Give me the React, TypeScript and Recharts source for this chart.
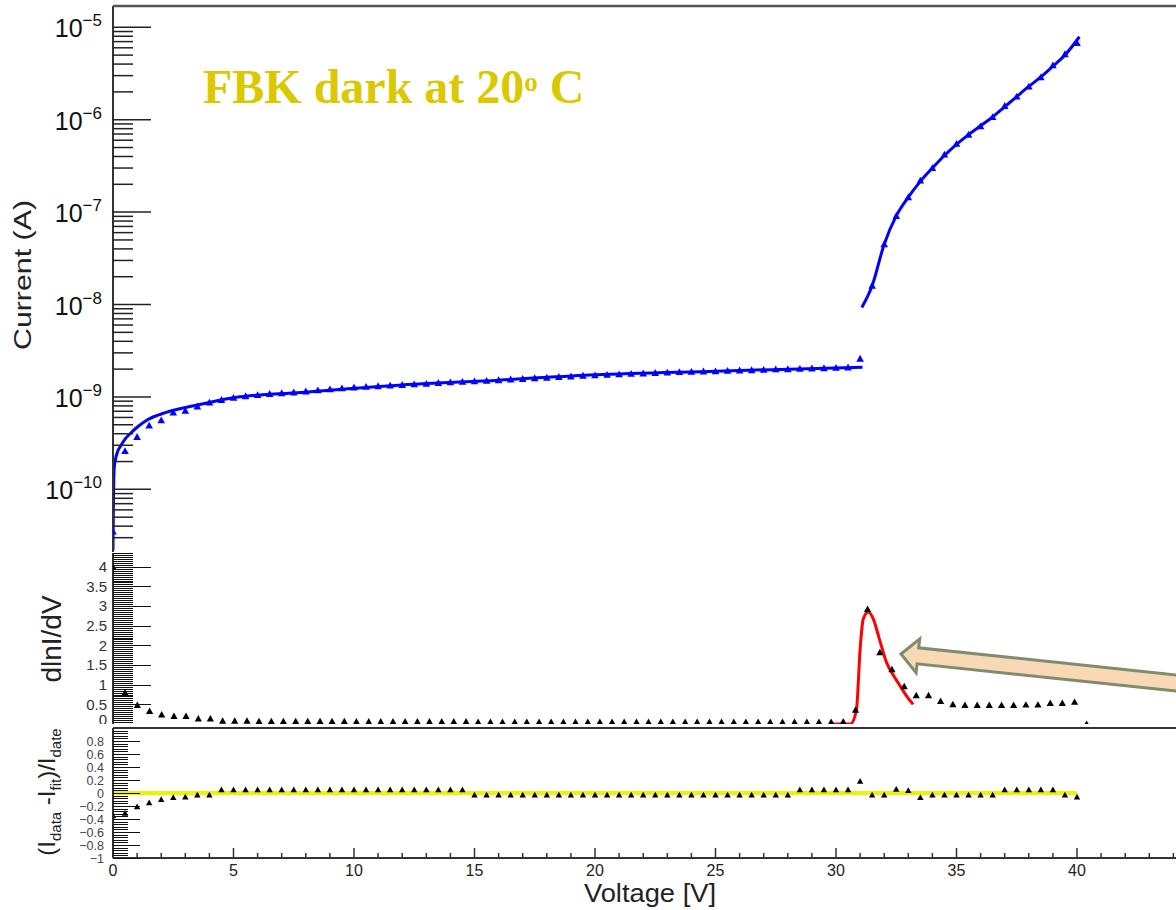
import React from 'react';
import { ComposedChart, Line, Scatter, XAxis, YAxis } from 'recharts';

// I-V scan, half-volt steps
const voltage = [
  0, 0.5, 1, 1.5, 2, 2.5, 3, 3.5, 4, 4.5, 5, 5.5, 6, 6.5, 7, 7.5, 8, 8.5, 9, 9.5,
  10, 10.5, 11, 11.5, 12, 12.5, 13, 13.5, 14, 14.5, 15, 15.5, 16, 16.5, 17, 17.5, 18, 18.5, 19, 19.5,
  20, 20.5, 21, 21.5, 22, 22.5, 23, 23.5, 24, 24.5, 25, 25.5, 26, 26.5, 27, 27.5, 28, 28.5, 29, 29.5,
  30, 30.5, 31, 31.5, 32, 32.5, 33, 33.5, 34, 34.5, 35, 35.5, 36, 36.5, 37, 37.5, 38, 38.5, 39, 39.5, 40,
];

const current = [
  3.5e-11, 2.6e-10, 3.7e-10, 4.9e-10, 5.6e-10, 6.8e-10, 7.1e-10, 7.9e-10, 8.7e-10, 9.3e-10,
  9.8e-10, 1.02e-9, 1.05e-9, 1.08e-9, 1.1e-9, 1.12e-9, 1.15e-9, 1.18e-9, 1.21e-9, 1.24e-9,
  1.27e-9, 1.29e-9, 1.31e-9, 1.33e-9, 1.35e-9, 1.37e-9, 1.39e-9, 1.42e-9, 1.44e-9, 1.46e-9,
  1.48e-9, 1.5e-9, 1.52e-9, 1.55e-9, 1.57e-9, 1.6e-9, 1.62e-9, 1.65e-9, 1.67e-9, 1.7e-9,
  1.72e-9, 1.74e-9, 1.76e-9, 1.78e-9, 1.8e-9, 1.82e-9, 1.84e-9, 1.86e-9, 1.87e-9, 1.89e-9,
  1.9e-9, 1.92e-9, 1.94e-9, 1.95e-9, 1.97e-9, 1.99e-9, 2.0e-9, 2.02e-9, 2.04e-9, 2.05e-9,
  2.07e-9, 2.09e-9, 2.6e-9, 1.6e-8, 4.5e-8, 9.1e-8, 1.45e-7, 2.2e-7, 3.0e-7, 4.2e-7,
  5.5e-7, 6.9e-7, 8.5e-7, 1.07e-6, 1.41e-6, 1.78e-6, 2.29e-6, 2.88e-6, 3.89e-6, 5.13e-6, 6.76e-6,
];

// fit below breakdown
const fitLowV = [0, 0.02, 0.05, 0.1, 0.2, 0.3, 0.5, 0.75, 1.0, 1.4, 2.2, 3.6, 5, 7.8, 12, 16, 20, 25, 31.1];
const fitLowI = [
  2.2e-11, 8e-11, 1.7e-10, 2.1e-10, 2.6e-10, 2.9e-10, 3.5e-10, 4.1e-10, 4.7e-10, 5.6e-10,
  6.8e-10, 8.3e-10, 9.8e-10, 1.12e-9, 1.35e-9, 1.52e-9, 1.74e-9, 1.9e-9, 2.1e-9,
];

// fit above breakdown
const fitHighV = [31.07, 31.5, 32, 32.5, 33, 33.5, 34, 34.5, 35, 35.5, 36, 36.5, 37, 37.5, 38, 38.5, 39, 39.5, 40.1];
const fitHighI = [
  9.3e-9, 1.6e-8, 4.5e-8, 9.1e-8, 1.45e-7, 2.15e-7, 3.0e-7, 4.1e-7, 5.4e-7, 6.9e-7,
  8.6e-7, 1.07e-6, 1.38e-6, 1.78e-6, 2.29e-6, 2.9e-6, 3.8e-6, 5.0e-6, 7.9e-6,
];

// dlnI/dV points
const dlnV = [
  0, 0.5, 1.01, 1.52, 2.02, 2.53, 3.03, 3.54, 4.04, 4.55, 5.05, 5.56, 6.06, 6.57, 7.07, 7.58, 8.08, 8.59, 9.09, 9.6,
  10.1, 10.61, 11.11, 11.62, 12.12, 12.63, 13.13, 13.64, 14.14, 14.65, 15.15, 15.66, 16.16, 16.67, 17.17, 17.68, 18.18, 18.69, 19.19, 19.7,
  20.2, 20.71, 21.21, 21.72, 22.22, 22.73, 23.23, 23.74, 24.24, 24.75, 25.25, 25.76, 26.26, 26.77, 27.27, 27.78, 28.28, 28.79, 29.29, 29.8,
  30.3, 30.81, 31.31, 31.82, 32.32, 32.83, 33.33, 33.84, 34.34, 34.85, 35.35, 35.86, 36.36, 36.87, 37.37, 37.88, 38.38, 38.89, 39.39, 39.9, 40.4,
];
const dlnIdV = [
  4.0, 0.8, 0.48, 0.33, 0.24, 0.2, 0.2, 0.14, 0.14, 0.08,
  0.08, 0.08, 0.07, 0.07, 0.07, 0.07, 0.07, 0.07, 0.07, 0.07,
  0.06, 0.06, 0.06, 0.06, 0.06, 0.06, 0.06, 0.06, 0.06, 0.06,
  0.05, 0.05, 0.05, 0.05, 0.05, 0.05, 0.05, 0.05, 0.05, 0.05,
  0.05, 0.05, 0.05, 0.05, 0.05, 0.05, 0.05, 0.05, 0.05, 0.05,
  0.05, 0.05, 0.05, 0.05, 0.05, 0.05, 0.05, 0.05, 0.05, 0.05,
  0.06, 0.36, 2.92, 1.82, 1.39, 0.96, 0.73, 0.73, 0.58, 0.5,
  0.48, 0.48, 0.48, 0.48, 0.48, 0.49, 0.49, 0.53, 0.53, 0.56, 0.0,
];

// red peak fit
const peakFitV = [29.75, 30.2, 30.6, 30.85, 31.0, 31.13, 31.34, 31.55, 31.8, 32.1, 32.4, 32.66, 32.93, 33.2];
const peakFitY = [0, 0, 0, 0.37, 1.9, 2.67, 2.85, 2.67, 2.16, 1.56, 1.22, 0.97, 0.71, 0.5];

// (Idata - Ifit)/Idata
const residual = [
  -0.35, -0.31, -0.21, -0.15, -0.1, -0.07, -0.06, -0.03, -0.03, 0.05,
  0.05, 0.05, 0.05, 0.05, 0.05, 0.05, 0.05, 0.05, 0.05, 0.05,
  0.05, 0.05, 0.05, 0.05, 0.05, 0.05, 0.05, 0.05, 0.05, 0.05,
  -0.03, -0.03, -0.03, -0.03, -0.03, -0.03, -0.03, -0.03, -0.03, -0.03,
  -0.03, -0.03, -0.03, -0.03, -0.03, -0.03, -0.03, -0.03, -0.03, -0.03,
  -0.03, -0.03, -0.03, -0.03, -0.03, -0.03, -0.03, 0.05, 0.05, 0.05,
  0.05, 0.05, 0.18, -0.03, -0.03, 0.06, 0.04, -0.07, -0.03, -0.03,
  -0.03, -0.03, -0.03, -0.03, 0.05, 0.05, 0.05, 0.05, 0.05, -0.03, -0.06,
];
const zeroFitV = [0, 40];
const zeroFitY = [0, 0];

// ticks
const xMajor = [0, 5, 10, 15, 20, 25, 30, 35, 40, 45];
const xLabels = [0, 5, 10, 15, 20, 25, 30, 35, 40];
const xTicks = Array.from({ length: 46 }, (_, i) => i);
const logTicks: number[] = [];
for (let e = -11; e <= -5; e++) {
  for (let m = 1; m <= 9; m++) {
    const t = m * Math.pow(10, e);
    if (t >= 2.1e-11 && t <= 1.7e-5) logTicks.push(t);
  }
}
const dlnLabels = [0, 0.5, 1, 1.5, 2, 2.5, 3, 3.5, 4];
const dlnTicks = Array.from({ length: 88 }, (_, i) => +(i * 0.05).toFixed(2));
const resLabels = [-1, -0.8, -0.6, -0.4, -0.2, 0, 0.2, 0.4, 0.6, 0.8];
const resTicks = Array.from({ length: 51 }, (_, i) => +(-1 + i * 0.04).toFixed(2));

const pairs = (xs: number[], ys: number[]) => xs.map((v, i) => ({ v, y: ys[i] }));

const LEFT = 113;
const W = 1230;
const AX = '#333';
const SANS = "'Liberation Sans', Arial, sans-serif";

const near = (list: number[], v: number) => list.some((l) => Math.abs(l - v) < 1e-6);

const xTick = (bottom: number, major: number, minor: number, labels: boolean) => (p: any) => {
  const v = p.payload.value;
  const isMajor = near(xMajor, v);
  return (
    <g>
      <line x1={p.x} x2={p.x} y1={bottom} y2={bottom - (isMajor ? major : minor)} stroke={AX} strokeWidth={1.5} />
      {labels && near(xLabels, v) && (
        <text x={p.x} y={876} textAnchor="middle" fontSize={16} fill="#222" fontFamily={SANS}>
          {v}
        </text>
      )}
    </g>
  );
};

const logTick = (p: any) => {
  const v = p.payload.value;
  const e = Math.round(Math.log10(v));
  const isMajor = Math.abs(v / Math.pow(10, e) - 1) < 1e-6;
  return (
    <g>
      <line x1={LEFT} x2={LEFT + (isMajor ? 38 : 20)} y1={p.y} y2={p.y} stroke="#222" strokeWidth={1.5} />
      {isMajor && (
        <text x={102} y={p.y + 10} textAnchor="end" fontSize={25} fill="#111" fontFamily={SANS}>
          10<tspan dy={-11} fontSize={17}>{'\u2212' + -e}</tspan>
        </text>
      )}
    </g>
  );
};

// bottomLift: raise the label sitting on the panel's lower edge so it stays inside
const linTick =
  (labels: number[], major: number, minor: number, labelX: number, fs: number, color: string, bottomVal: number, bottomLift: number) =>
  (p: any) => {
    const v = p.payload.value;
    const isMajor = near(labels, v);
    const txt = v < 0 ? '\u2212' + Math.abs(v) : String(v);
    const y = Math.round(p.y) + 0.5;
    const lift = Math.abs(v - bottomVal) < 1e-6 ? bottomLift : 0;
    return (
      <g>
        <line
          x1={LEFT}
          x2={LEFT + (isMajor ? major : minor)}
          y1={y}
          y2={y}
          stroke="#111"
          strokeWidth={1}
          shapeRendering="crispEdges"
        />
        {isMajor && (
          <text x={labelX} y={p.y + fs * 0.36 - lift} textAnchor="end" fontSize={fs} fill={color} fontFamily={SANS}>
            {txt}
          </text>
        )}
      </g>
    );
  };

const tri = (color: string, r: number) => (p: any) => (
  <path
    d={`M${p.cx},${p.cy - r}L${p.cx + r},${p.cy + r * 0.8}L${p.cx - r},${p.cy + r * 0.8}Z`}
    fill={color}
  />
);

const layer: React.CSSProperties = { position: 'absolute', left: 0, top: 0 };

export default function App() {
  return (
    <div
      style={{
        position: 'absolute',
        left: 0,
        top: 0,
        width: 1176,
        height: 910,
        overflow: 'hidden',
        background: '#fff',
      }}
    >
      {/* current vs voltage, log scale */}
      <div style={layer}>
        <ComposedChart width={W} height={552} margin={{ top: 6, right: 32.5, bottom: 0, left: 0 }}>
          <XAxis
            type="number"
            dataKey="v"
            domain={[0, 45]}
            allowDataOverflow
            ticks={xTicks}
            interval={0}
            height={0}
            tickLine={false}
            axisLine={{ stroke: AX, strokeWidth: 2 }}
            tick={xTick(552, 15, 7, false)}
          />
          <YAxis
            type="number"
            dataKey="y"
            scale="log"
            domain={[2.1e-11, 1.7e-5]}
            allowDataOverflow
            ticks={logTicks}
            interval={0}
            width={113}
            tickLine={false}
            axisLine={{ stroke: AX, strokeWidth: 2 }}
            tick={logTick}
          />
          <Line data={pairs(fitLowV, fitLowI)} dataKey="y" type="monotone" stroke="#0000ff" strokeWidth={3} dot={false} isAnimationActive={false} />
          <Line data={pairs(fitHighV, fitHighI)} dataKey="y" type="monotone" stroke="#0000ff" strokeWidth={3} dot={false} isAnimationActive={false} />
          <Scatter data={pairs(voltage, current)} shape={tri('#0000ff', 3.8)} isAnimationActive={false} />
        </ComposedChart>
      </div>

      {/* dlnI/dV */}
      <div style={layer}>
        <ComposedChart width={W} height={724} margin={{ top: 553, right: 32.5, bottom: 0, left: 0 }}>
          <XAxis
            type="number"
            dataKey="v"
            domain={[0, 45]}
            allowDataOverflow
            ticks={xTicks}
            interval={0}
            height={0}
            tickLine={false}
            axisLine={{ stroke: AX, strokeWidth: 2 }}
            tick={xTick(724, 6, 3, false)}
          />
          <YAxis
            type="number"
            dataKey="y"
            domain={[0, 4.35]}
            allowDataOverflow
            ticks={dlnTicks}
            interval={0}
            width={113}
            tickLine={false}
            axisLine={{ stroke: AX, strokeWidth: 2 }}
            tick={linTick(dlnLabels, 38, 20, 107, 15, '#333', 0, 4)}
          />
          <Scatter data={pairs(dlnV, dlnIdV)} shape={tri('#000', 3.6)} isAnimationActive={false} />
          <Line data={pairs(peakFitV, peakFitY)} dataKey="y" type="monotone" stroke="#ff0000" strokeWidth={3} dot={false} isAnimationActive={false} />
        </ComposedChart>
      </div>

      {/* residuals */}
      <div style={layer}>
        <ComposedChart width={W} height={910} margin={{ top: 728, right: 32.5, bottom: 0, left: 0 }}>
          <XAxis
            type="number"
            dataKey="v"
            domain={[0, 45]}
            allowDataOverflow
            ticks={xTicks}
            interval={0}
            height={52}
            tickLine={false}
            axisLine={{ stroke: AX, strokeWidth: 2 }}
            tick={xTick(858, 10, 5, true)}
          />
          <YAxis
            type="number"
            dataKey="y"
            domain={[-1, 1]}
            allowDataOverflow
            ticks={resTicks}
            interval={0}
            width={113}
            tickLine={false}
            axisLine={{ stroke: AX, strokeWidth: 2 }}
            tick={linTick(resLabels, 27, 15, 104, 12.5, '#444', -1, 0)}
          />
          <Line data={pairs(zeroFitV, zeroFitY)} dataKey="y" type="linear" stroke="#f2f200" strokeWidth={4} dot={false} isAnimationActive={false} />
          <Scatter data={pairs(voltage, residual)} shape={tri('#000', 3.2)} isAnimationActive={false} />
        </ComposedChart>
      </div>

      {/* frame, titles and annotation */}
      <svg width={1176} height={910} style={{ ...layer, pointerEvents: 'none' }}>
        <line x1={LEFT} x2={1176} y1={6} y2={6} stroke="#555" strokeWidth={2.5} />
        <line x1={LEFT} x2={1176} y1={728} y2={728} stroke={AX} strokeWidth={2} />
        <text
          x={203}
          y={103}
          fontFamily="'Liberation Serif', 'DejaVu Serif', serif"
          fontWeight="bold"
          fontSize={48}
          fill="#dcc800"
        >
          FBK dark at 20<tspan dy={-12} fontSize={27}>o</tspan>
          <tspan dy={12}> C</tspan>
        </text>
        <text transform="translate(31,275) rotate(-90)" textAnchor="middle" fontSize={23} fill="#222" fontFamily={SANS} textLength={150} lengthAdjust="spacingAndGlyphs">
          Current (A)
        </text>
        <text transform="translate(61,639) rotate(-90)" textAnchor="middle" fontSize={28} fill="#222" fontFamily={SANS}>
          dlnI/dV
        </text>
        <text transform="translate(55,792) rotate(-90)" textAnchor="middle" fontSize={24} fill="#222" fontFamily={SANS}>
          (I<tspan dy={6} fontSize={15}>data</tspan>
          <tspan dy={-6}> -I</tspan>
          <tspan dy={6} fontSize={15}>fit</tspan>
          <tspan dy={-6}>)/I</tspan>
          <tspan dy={6} fontSize={15}>date</tspan>
        </text>
        <text x={716} y={902} textAnchor="end" fontSize={26} fill="#222" fontFamily={SANS} textLength={132} lengthAdjust="spacingAndGlyphs">
          Voltage [V]
        </text>
        <polygon
          points="901,654 919.7,638.9 918.7,647.8 1217,679.3 1215.4,695.2 917.1,663.8 916.1,672.7"
          fill="#f9d9b5"
          stroke="#7f8c6e"
          strokeWidth={3}
          strokeLinejoin="miter"
        />
      </svg>
    </div>
  );
}
